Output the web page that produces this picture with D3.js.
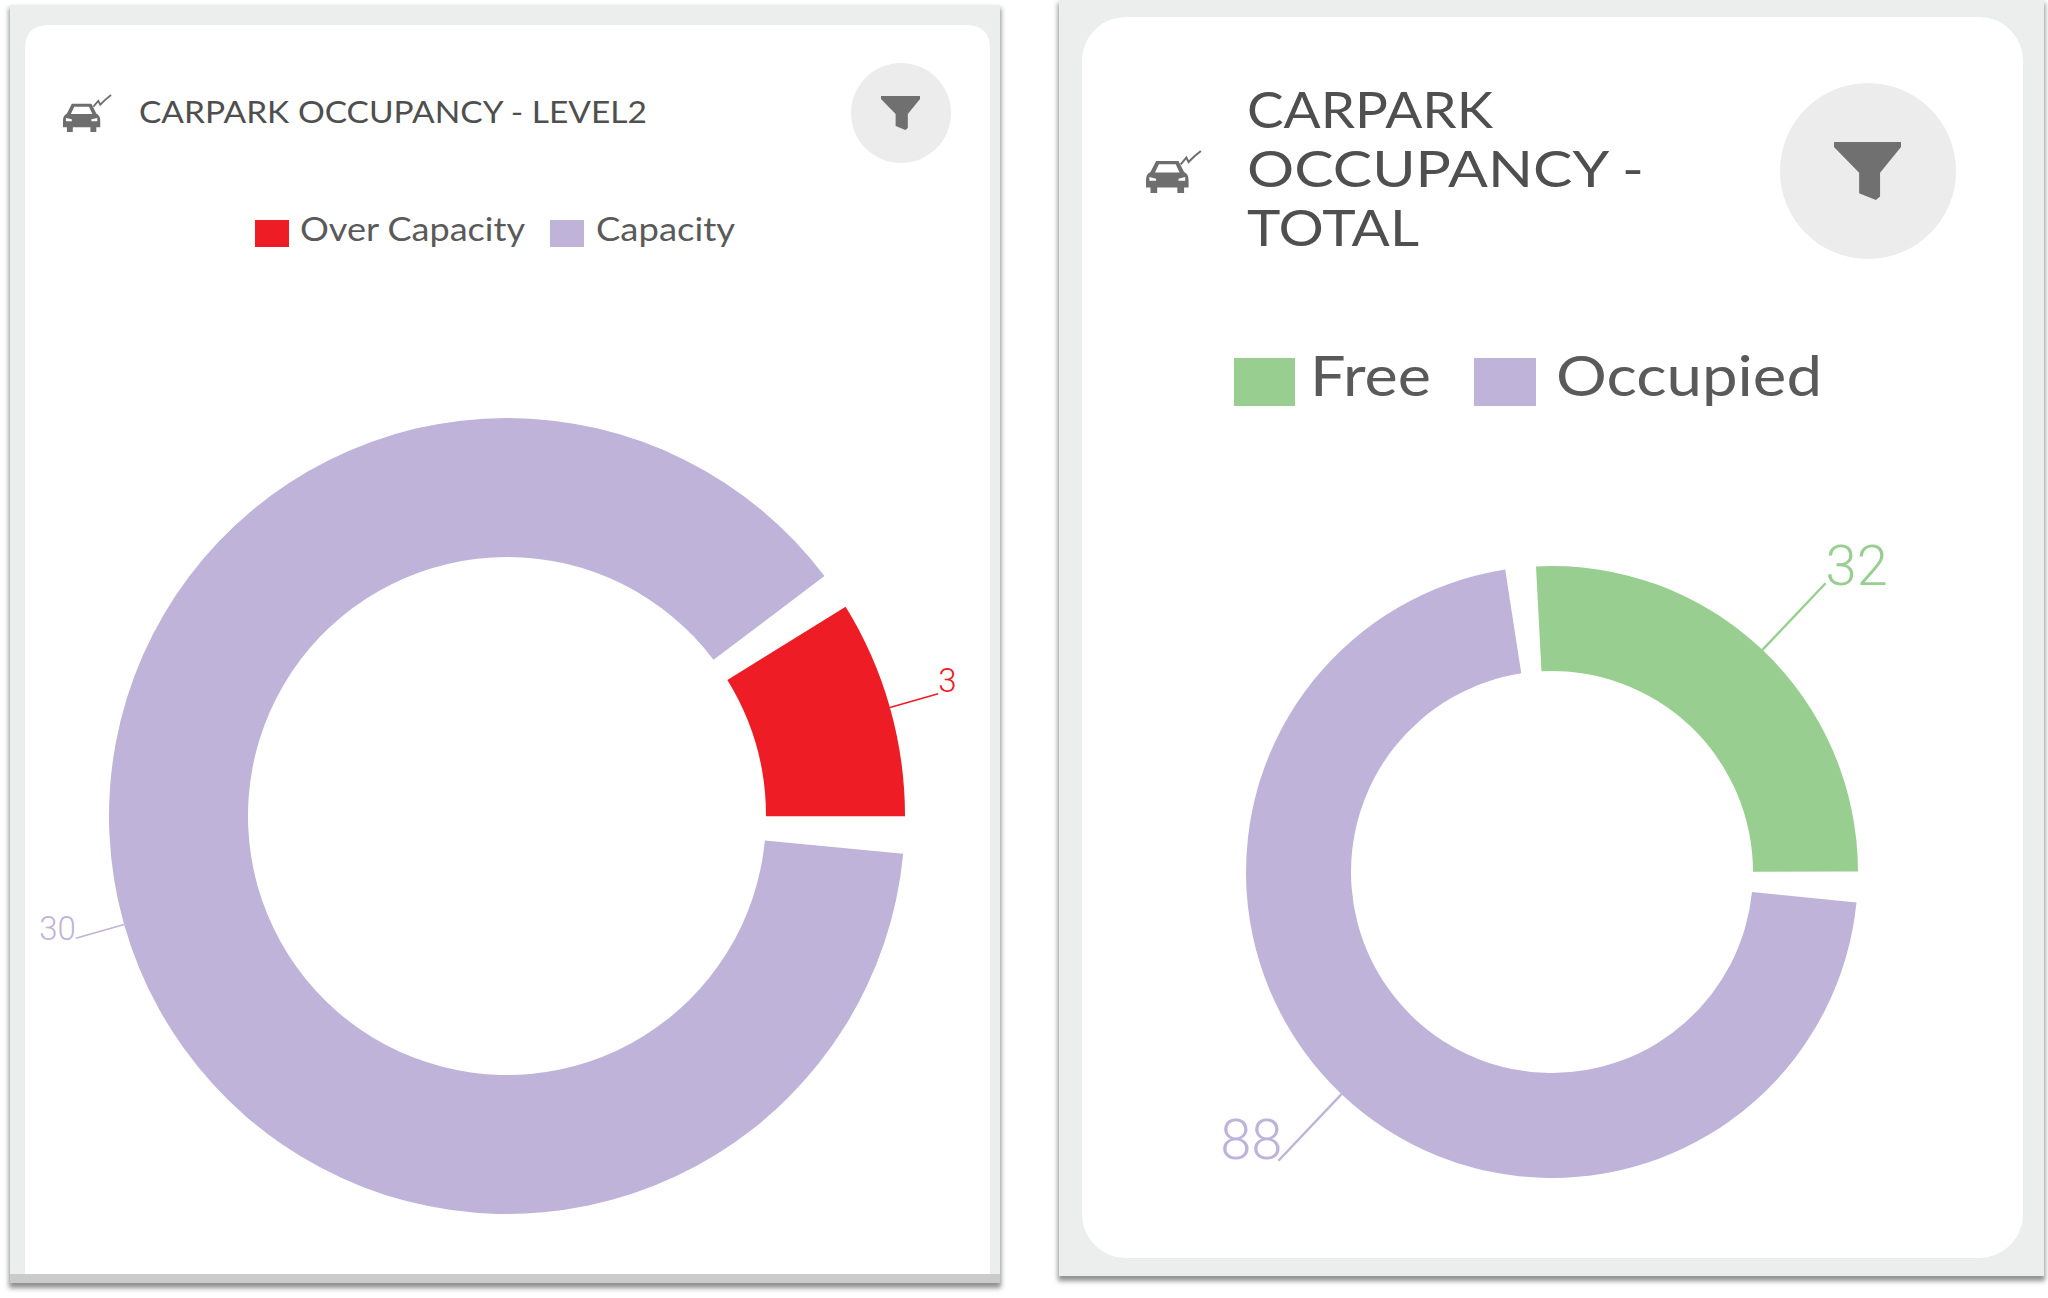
<!DOCTYPE html>
<html>
<head>
<meta charset="utf-8">
<script src="https://cdn.jsdelivr.net/npm/d3@7/dist/d3.min.js"></script>
<style>
html,body{margin:0;padding:0;background:#fff;}
svg{display:block;}
text{font-family:"Lato","Open Sans",sans-serif;}
</style>
</head>
<body>
<svg id="chart" width="2048" height="1298"></svg>
<script>
// Data
const level2Categories = ["Over Capacity", "Capacity"];
const level2Values = [3, 30];
const level2Colors = ["#ee1c25", "#bfb3d9"];
const level2Title = ["CARPARK OCCUPANCY - LEVEL2"];

const totalCategories = ["Free", "Occupied"];
const totalValues = [32, 88];
const totalColors = ["#98cf90", "#bfb3d9"];
const totalTitle = ["CARPARK", "OCCUPANCY -", "TOTAL"];

const deg = Math.PI / 180;
const svg = d3.select("#chart");
const defs = svg.append("defs");
const blur = defs.append("filter").attr("id","shadow").attr("x","-5%").attr("y","-5%").attr("width","110%").attr("height","110%");
blur.append("feGaussianBlur").attr("stdDeviation",2.5);
const soft = defs.append("filter").attr("id","soft");
soft.append("feGaussianBlur").attr("stdDeviation",0.55);

function card(c){
  svg.append("rect").attr("x",c.frame[0]-1).attr("y",c.frame[1]+3).attr("width",c.frame[2]+2).attr("height",c.frame[3]+2)
    .attr("fill","#8f8f8f").attr("filter","url(#shadow)");
  svg.append("rect").attr("x",c.frame[0]).attr("y",c.frame[1]).attr("width",c.frame[2]).attr("height",c.frame[3]).attr("fill","#eceeee");
  if(c.strip) svg.append("rect").attr("x",c.frame[0]).attr("y",c.strip[0]).attr("width",c.frame[2]).attr("height",c.strip[1]).attr("fill","#cbcbcb");
  const [x,y,w,h]=c.panel, r=c.radius;
  if(c.squareBottom){
    svg.append("path").attr("fill","#fff")
      .attr("d",`M${x},${y+h}V${y+r}Q${x},${y} ${x+r},${y}H${x+w-r}Q${x+w},${y} ${x+w},${y+r}V${y+h}Z`);
  } else {
    svg.append("rect").attr("x",x).attr("y",y).attr("width",w).attr("height",h).attr("rx",r).attr("fill","#fff");
  }
}

function icons(g,c){
  const car=g.append("g").attr("transform",`translate(${c.car[0]},${c.car[1]}) scale(${c.car[2]/50},${c.car[3]/38})`).attr("fill","#6e6e6e");
  car.append("path").attr("fill-rule","evenodd").attr("d","M9,9 H29 L34,19 Q38,21 38,26 V33 H34 V38 H28 V33 H10 V38 H4 V33 H0 V26 Q0,21 4,19 Z M11.5,12 L8,19.5 H30 L26.5,12 Z M3,23.5 V27 H9 L9,25 Z M35,23.5 L29,25 V27 H35 Z");
  car.append("path").attr("d","M31,12 L36,6 L38,10 L43,5 L49,0").attr("fill","none").attr("stroke","#6e6e6e").attr("stroke-width",1.8);
  const [cx,cy,cr]=c.btn;
  g.append("circle").attr("cx",cx).attr("cy",cy).attr("r",cr).attr("fill","#ececec");
  const [fx,fy,fw,fh]=c.funnel;
  g.append("g").attr("transform",`translate(${fx},${fy}) scale(${fw/40},${fh/34})`)
    .append("path").attr("fill","#707070").attr("d","M0,0 H40 V3 L27.5,18 V32 L25,34 L15,30 V18 L0,3 Z");
}

function donut(c){
  const g=svg.append("g").attr("filter",c.soft?"url(#soft)":null);
  icons(g,c);
  c.titleLines.forEach((t,i)=>{
    g.append("text").attr("x",c.titlePos[i][0]).attr("y",c.titlePos[i][1])
      .attr("font-size",c.titleSize).attr("fill","#4f4f4f")
      .attr("textLength",c.titlePos[i][2]).attr("lengthAdjust","spacingAndGlyphs").text(t);
  });
  c.categories.forEach((name,i)=>{
    const l=c.legend[i];
    g.append("rect").attr("x",l[0]).attr("y",c.legendY[0]).attr("width",l[1]).attr("height",c.legendY[1]-c.legendY[0]).attr("fill",c.colors[i]);
    g.append("text").attr("x",l[2]).attr("y",c.legendBase).attr("font-size",c.legendSize).attr("font-weight",400).attr("fill","#5a5a5a")
      .attr("textLength",l[3]).attr("lengthAdjust","spacingAndGlyphs").text(name);
  });
  const pie=d3.pie().sort(null).startAngle(c.start*deg).endAngle((c.start+360)*deg).padAngle(c.pad*deg);
  const arcs=pie(c.values);
  const arc=d3.arc().innerRadius(c.r0).outerRadius(c.r1);
  const plot=g.append("g").attr("transform",`translate(${c.cx},${c.cy})`);
  plot.selectAll("path").data(arcs).join("path")
    .attr("fill",(d,i)=>c.colors[i])
    .attr("d",d=>arc({startAngle:d.startAngle,endAngle:d.endAngle-d.padAngle}));
  arcs.forEach((d,i)=>{
    const a=(d.startAngle+d.endAngle-d.padAngle)/2;
    const sx=Math.sin(a), sy=-Math.cos(a);
    const r2=c.r1*c.leader;
    plot.append("line").attr("x1",sx*c.r1).attr("y1",sy*c.r1).attr("x2",sx*r2).attr("y2",sy*r2)
      .attr("stroke",c.colors[i]).attr("stroke-width",c.leaderW);
    plot.append("text").attr("x",sx*r2+(sx>0?0:c.lblLeftGap)).attr("y",sy*r2+(sy<0?c.lblUp:c.lblDown))
      .style("font-family","Roboto, Lato, sans-serif")
      .attr("text-anchor",sx>0?"start":"end").attr("font-size",c.lblSize).attr("font-weight",c.lblWeight)
      .attr("fill",c.colors[i]).text(d.value);
  });
}

card({frame:[10,5,990,1278],strip:[1274,9],panel:[25,25,965,1249],radius:24,squareBottom:true});
card({frame:[1059,0,985,1276],panel:[1082,17,941,1241],radius:44});

donut({
  categories:level2Categories,values:level2Values,colors:level2Colors,titleLines:level2Title,
  titlePos:[[139,123,508]],titleSize:31,
  car:[63,95,49,37],btn:[901,113,50],funnel:[881,96,39,34],
  legend:[[255,34,300,225],[550,34,596,139]],legendY:[220,247],legendBase:241,legendSize:33,
  cx:507,cy:816,r0:259,r1:398,start:58.3,pad:5.4,leader:1.126,leaderW:1.6,lblSize:33,lblWeight:300,lblUp:-2,lblDown:2,lblLeftGap:0
});
donut({
  soft:true,
  categories:totalCategories,values:totalValues,colors:totalColors,titleLines:totalTitle,
  titlePos:[[1247,128,246],[1247,187,397],[1247,246,172]],titleSize:50,
  car:[1146,151,56,42],btn:[1868,171,88],funnel:[1834,142,67,58],
  legend:[[1234,61,1310,121],[1474,62,1556,266]],legendY:[358,406],legendBase:396,legendSize:56,
  cx:1552,cy:872,r0:201,r1:306,start:-3,pad:5.8,leader:1.3,leaderW:2.4,lblSize:56,lblWeight:300,lblUp:2,lblDown:-2,lblLeftGap:4
});
</script>
</body>
</html>
